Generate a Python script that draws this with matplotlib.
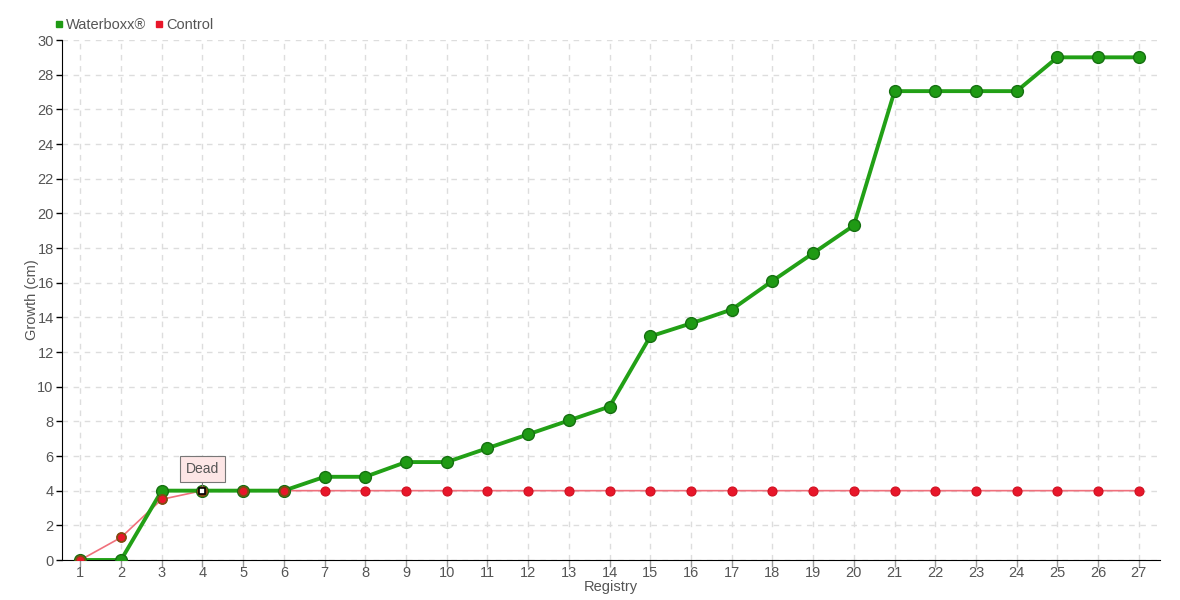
import matplotlib
matplotlib.use("Agg")
import matplotlib.pyplot as plt
from matplotlib.lines import Line2D

registry = list(range(1, 28))
waterboxx = [0, 0, 4, 4, 4, 4, 4.8, 4.8, 5.65, 5.65, 6.45, 7.25, 8.05, 8.85,
             12.9, 13.65, 14.45, 16.1, 17.7, 19.3, 27.05, 27.05, 27.05, 27.05,
             29.0, 29.0, 29.0]
control = [0, 1.3, 3.5] + [4] * 24
yticks = list(range(0, 31, 2))
dead_x, dead_y = 4, 4

plt.rcParams['font.family'] = ['Liberation Sans', 'DejaVu Sans']

txt = "#555555"
fig = plt.figure(figsize=(11.8, 6.0), dpi=100)
ax = fig.add_axes([62/1180, 40/600, (1160-62)/1180, 520/600])

ax.plot(registry, control, color="#f0707c", lw=1.2, zorder=3)
ax.plot(registry, control, ls="none", marker="o", ms=6.5, mfc="#e8162a",
        mec="#d01020", mew=0.8, zorder=5)
ax.plot(registry, waterboxx, color="#22a016", lw=2.8, zorder=4, solid_joinstyle="round")
ax.plot(registry, waterboxx, ls="none", marker="o", ms=8.5, mfc="#1f9a14",
        mec="#157010", mew=1.0, zorder=4)
ax.plot(registry[:6], control[:6], ls="none", marker="o", ms=6.5, mfc="#e8162a",
        mec="#7a5010", mew=1.2, zorder=6)
ax.plot([dead_x], [dead_y], ls="none", marker="s", ms=5, mfc="white",
        mec="black", mew=1.2, zorder=7)
ax.annotate("Dead", xy=(dead_x, dead_y), xytext=(0, 15.5), textcoords="offset points",
            ha="center", va="center", fontsize=10, color=txt, zorder=8,
            bbox=dict(boxstyle="square,pad=0.45", fc="#fde6e6", ec="#777777", lw=0.8),
            arrowprops=dict(arrowstyle="-", color="#777777", lw=0.8, shrinkA=0, shrinkB=3))

ax.set_xlim(0.55, 27.52)
ax.set_ylim(0, 30)
ax.set_xticks(registry)
ax.set_yticks(yticks)
ax.tick_params(axis="both", colors=txt, labelsize=10.5, length=4, width=1, pad=2)
ax.tick_params(axis="x", color="#999999", length=5, pad=-1)
ax.tick_params(axis="y", color="black")
ax.grid(True, color="#dddddd", ls=(0, (4, 4)), lw=1)
ax.set_axisbelow(True)
for s in ["top", "right"]:
    ax.spines[s].set_visible(False)
ax.spines["left"].set_color("black")
ax.spines["bottom"].set_color("black")
ax.set_xlabel("Registry", color=txt, fontsize=10.5, labelpad=0)
ax.set_ylabel("Growth (cm)", color=txt, fontsize=10.5, labelpad=-1)

handles = [Line2D([], [], ls="none", marker="s", ms=5, color="#1f9a14"),
           Line2D([], [], ls="none", marker="s", ms=5, color="#e8162a")]
fig.legend(handles, ["Waterboxx®", "Control"], loc="upper left",
           bbox_to_anchor=(44/1180, 1 - 8/600), ncol=2, frameon=False,
           fontsize=10.5, labelcolor=txt, handlelength=0.6, handletextpad=0.2,
           columnspacing=0.6, borderpad=0.2)

fig.savefig("out.png", dpi=100)
